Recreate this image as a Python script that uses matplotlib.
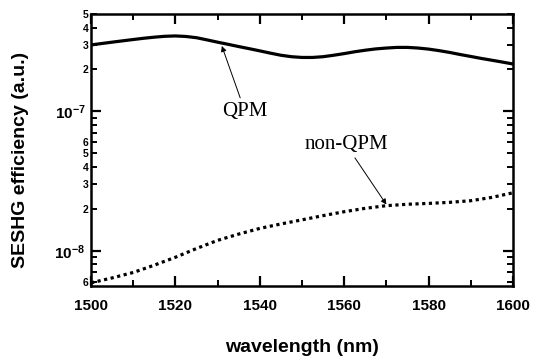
import numpy as np
import matplotlib
matplotlib.use("Agg")
import matplotlib.pyplot as plt
from matplotlib.ticker import LogLocator, FuncFormatter, MultipleLocator

plt.rcParams['font.family'] = ['Liberation Sans', 'DejaVu Sans']
plt.rcParams['font.weight'] = 'bold'
plt.rcParams['mathtext.fontset'] = 'custom'
plt.rcParams['mathtext.rm'] = 'Liberation Sans:bold'
plt.rcParams['mathtext.it'] = 'Liberation Sans:bold'
plt.rcParams['mathtext.bf'] = 'Liberation Sans:bold'

# data
wl_qpm = [1500, 1502.5, 1505, 1507.5, 1510, 1512.5, 1515, 1517.5, 1520, 1522.5,
          1525, 1527.5, 1530, 1532.5, 1535, 1537.5, 1540, 1542.5, 1545, 1547.5,
          1550, 1552.5, 1555, 1557.5, 1560, 1562.5, 1565, 1567.5, 1570, 1572.5,
          1575, 1577.5, 1580, 1582.5, 1585, 1587.5, 1590, 1592.5, 1595, 1597.5, 1600]
eff_qpm = [3.00e-7, 3.07e-7, 3.14e-7, 3.21e-7, 3.28e-7, 3.35e-7, 3.41e-7, 3.46e-7,
           3.48e-7, 3.45e-7, 3.38e-7, 3.26e-7, 3.14e-7, 3.03e-7, 2.92e-7, 2.82e-7,
           2.72e-7, 2.62e-7, 2.53e-7, 2.47e-7, 2.44e-7, 2.44e-7, 2.47e-7, 2.53e-7,
           2.60e-7, 2.68e-7, 2.75e-7, 2.81e-7, 2.85e-7, 2.88e-7, 2.88e-7, 2.85e-7,
           2.80e-7, 2.73e-7, 2.65e-7, 2.56e-7, 2.48e-7, 2.40e-7, 2.33e-7, 2.26e-7,
           2.19e-7]

wl_non = [1500, 1505, 1510, 1515, 1520, 1525, 1530, 1535, 1540, 1545, 1550,
          1555, 1560, 1565, 1570, 1575, 1580, 1585, 1590, 1595, 1600]
eff_non = [5.9e-9, 6.4e-9, 7.0e-9, 7.9e-9, 9.0e-9, 1.04e-8, 1.19e-8, 1.32e-8,
           1.45e-8, 1.56e-8, 1.67e-8, 1.79e-8, 1.91e-8, 2.02e-8, 2.11e-8, 2.16e-8,
           2.19e-8, 2.23e-8, 2.29e-8, 2.42e-8, 2.61e-8]

fig = plt.figure(figsize=(5.34, 3.56), dpi=100)
ax = fig.add_axes([91/534, 1-286/356, 422/534, 272/356])

ax.plot(wl_qpm, eff_qpm, color='black', lw=2.3, solid_capstyle='butt')
ax.plot(wl_non, eff_non, color='black', lw=2.3, linestyle=(0, (1, 1.1)))

ax.set_yscale('log')
ax.set_xlim(1500, 1600)
ax.set_ylim(5.6e-9, 5e-7)

ax.xaxis.set_major_locator(MultipleLocator(20))
ax.xaxis.set_minor_locator(MultipleLocator(10))
ax.yaxis.set_major_locator(LogLocator(base=10, subs=(1.0,)))
ax.yaxis.set_minor_locator(LogLocator(base=10, subs=np.arange(2, 10)))


def major_fmt(v, pos):
    e = int(round(np.log10(v)))
    return r'$10^{%d}$' % e


def minor_fmt(v, pos):
    e = np.floor(np.log10(v) + 1e-9)
    m = int(round(v / 10**e))
    return str(m) if m in (2, 3, 4, 5, 6) else ''


ax.yaxis.set_major_formatter(FuncFormatter(major_fmt))
ax.yaxis.set_minor_formatter(FuncFormatter(minor_fmt))

ax.tick_params(axis='both', which='both', direction='in', top=True, right=True)
ax.tick_params(axis='both', which='major', length=7, width=1.6)
ax.tick_params(axis='both', which='minor', length=4, width=1.4)
ax.tick_params(axis='x', which='major', labelsize=11, pad=9)
ax.tick_params(axis='y', which='major', labelsize=11, pad=4)
ax.tick_params(axis='y', which='minor', labelsize=7.5, pad=2)
for sp in ax.spines.values():
    sp.set_linewidth(1.8)

ax.set_xlabel('wavelength (nm)', fontsize=14, fontweight='bold', labelpad=19)
fig.text(21/534, 1-160/356, 'SESHG efficiency (a.u.)', rotation=90,
         fontsize=14, fontweight='bold', ha='center', va='center')

arrow = dict(arrowstyle='-|>', color='black', lw=0.7, mutation_scale=8,
             shrinkA=1, shrinkB=0)
ax.annotate('QPM', xy=(1531, 2.95e-7), xytext=(1536.5, 1.0e-7),
            fontsize=15, family='Liberation Serif', fontweight='normal',
            ha='center', va='center', arrowprops=arrow)
ax.annotate('non-QPM', xy=(1570, 2.15e-8), xytext=(1560.4, 5.8e-8),
            fontsize=15, family='Liberation Serif', fontweight='normal',
            ha='center', va='center', arrowprops=arrow)

fig.savefig('out.png', dpi=100)
